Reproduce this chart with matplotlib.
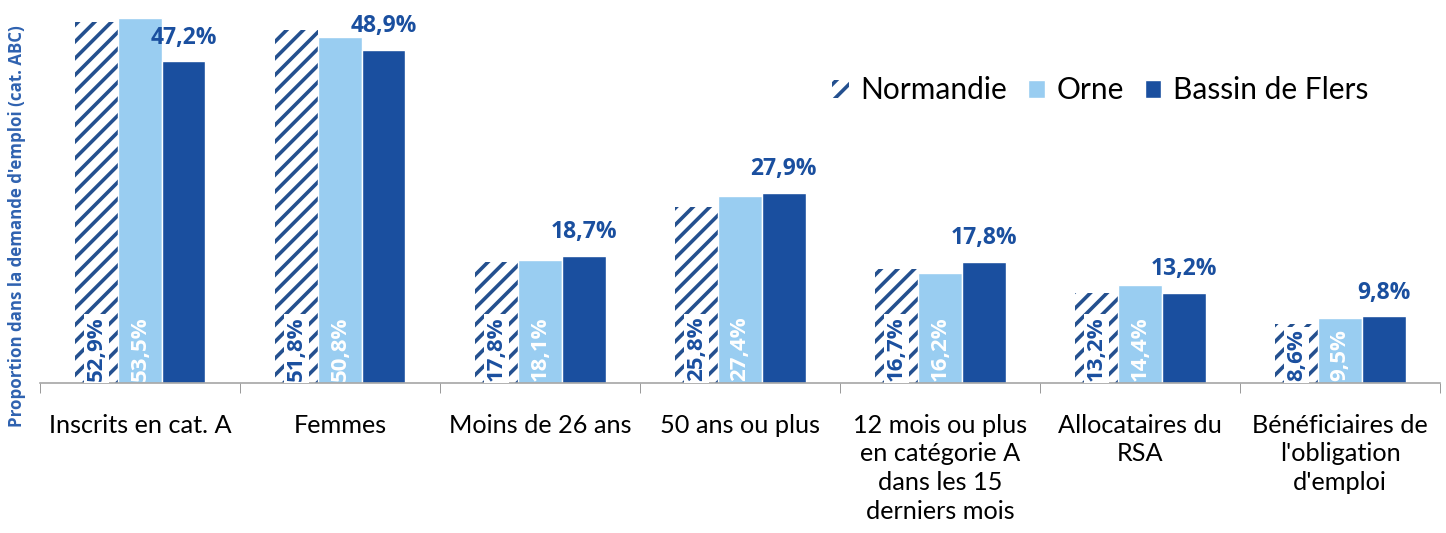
import matplotlib.pyplot as plt
import numpy as np

categories = ["Inscrits en cat. A", "Femmes", "Moins de 26 ans", "50 ans ou plus",
              "12 mois ou plus\nen catégorie A\ndans les 15\nderniers mois",
              "Allocataires du\nRSA", "Bénéficiaires de\nl'obligation\nd'emploi"]
normandie = [52.9, 51.8, 17.8, 25.8, 16.7, 13.2, 8.6]
orne = [53.5, 50.8, 18.1, 27.4, 16.2, 14.4, 9.5]
flers = [47.2, 48.9, 18.7, 27.9, 17.8, 13.2, 9.8]

dark = '#1A4F9F'
light = '#99CDF1'

def fmt(v):
    return f"{v:.1f}%".replace('.', ',')

plt.rcParams['font.family'] = ['Open Sans', 'DejaVu Sans']
plt.rcParams['hatch.linewidth'] = 2.6

fig = plt.figure(figsize=(14.46, 5.33), dpi=100)
ax = fig.add_axes([0.0277, 0.2814, 0.9683, 0.7036])

x = np.arange(len(categories))
w = 0.218
ax.bar(x - w, normandie, w, color='white', edgecolor='#24508F', hatch='//', linewidth=0,
       label='Normandie')
ax.bar(x, orne, w, color=light, edgecolor='white', linewidth=1, label='Orne')
ax.bar(x + w, flers, w, color=dark, edgecolor='white', linewidth=1, label='Bassin de Flers')

for i in range(len(categories)):
    ax.text(x[i] - w, 0.3, fmt(normandie[i]), rotation=90, ha='center', va='bottom',
            fontsize=16, fontweight='bold', color=dark,
            bbox=dict(facecolor='white', edgecolor='none', pad=1.5))
    ax.text(x[i], 0.3, fmt(orne[i]), rotation=90, ha='center', va='bottom',
            fontsize=16, fontweight='bold', color='white')
    ax.text(x[i] + w, flers[i] + 1.7, fmt(flers[i]), ha='center', va='bottom',
            fontsize=16.5, fontweight='bold', color=dark)

ax.set_xlim(-0.5, len(categories) - 0.5)
ax.set_ylim(0, 55)
ax.set_yticks([])
ax.set_xticks(x)
ax.set_xticklabels(categories, fontsize=18.2, linespacing=1.3, family=['Lato', 'DejaVu Sans'])
ax.set_xticks(np.arange(-0.5, len(categories)), minor=True)
ax.tick_params(axis='x', which='major', length=0, pad=22)
ax.tick_params(axis='x', which='minor', length=7, color='#888888')
for s in ['top', 'right', 'left']:
    ax.spines[s].set_visible(False)
ax.spines['bottom'].set_color('#A6A6A6')
ax.spines['bottom'].set_linewidth(1.2)

fig.text(0.012, 0.575, "Proportion dans la demande d'emploi (cat. ABC)", rotation=90,
         ha='center', va='center', fontsize=12.2, fontweight='bold', color='#2F62B0')

leg = ax.legend(loc='upper right', bbox_to_anchor=(0.968, 0.89), ncol=3, frameon=False,
                handlelength=0.55, handleheight=0.55, handletextpad=0.4,
                columnspacing=0.7, prop={'family': ['Lato', 'DejaVu Sans'], 'size': 21.5})

fig.savefig('out.png', dpi=100)
